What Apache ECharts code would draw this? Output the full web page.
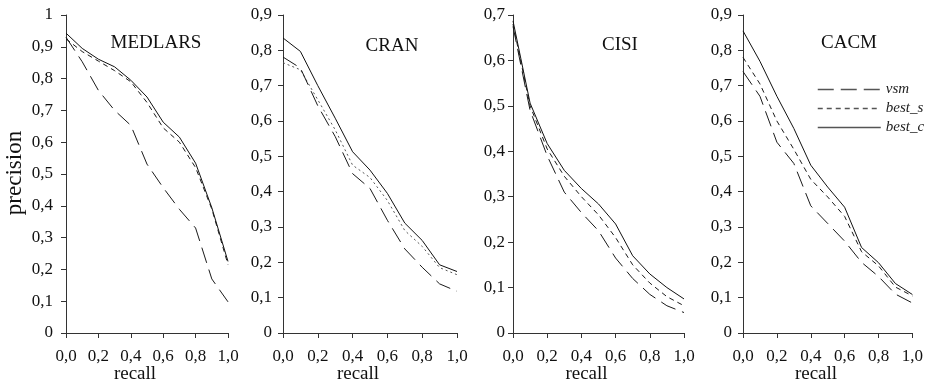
<!DOCTYPE html>
<html><head><meta charset="utf-8">
<script src="https://cdn.jsdelivr.net/npm/echarts@6/dist/echarts.min.js"></script>
<style>html,body{margin:0;padding:0;background:#fff}#c{width:926px;height:381px}</style>
</head><body><div id="c"></div>
<script>
var recall = [0,0.1,0.2,0.3,0.4,0.5,0.6,0.7,0.8,0.9,1.0];
var seriesNames = ['vsm','best_s','best_c'];
var panelTitles = ['MEDLARS','CRAN','CISI','CACM'];
var yMax = [1, 0.9, 0.7, 0.9];
var xTickLabels = ['0,0','0,2','0,4','0,6','0,8','1,0'];

var medlarsVsm   = [0.93,0.853,0.763,0.70,0.653,0.531,0.457,0.389,0.33,0.17,0.098];
var medlarsBestS = [0.925,0.885,0.855,0.825,0.79,0.725,0.645,0.60,0.52,0.39,0.215];
var medlarsBestC = [0.943,0.895,0.861,0.837,0.795,0.742,0.663,0.616,0.534,0.394,0.225];

var cranVsm   = [0.781,0.75,0.643,0.556,0.451,0.409,0.319,0.238,0.186,0.139,0.118];
var cranBestS = [0.765,0.745,0.66,0.575,0.475,0.44,0.375,0.29,0.245,0.185,0.165];
var cranBestC = [0.835,0.797,0.70,0.608,0.513,0.461,0.395,0.311,0.262,0.193,0.174];

var cisiVsm   = [0.675,0.49,0.39,0.31,0.265,0.225,0.165,0.12,0.085,0.06,0.045];
var cisiBestS = [0.68,0.50,0.405,0.345,0.30,0.26,0.21,0.15,0.11,0.08,0.06];
var cisiBestC = [0.687,0.506,0.417,0.358,0.318,0.284,0.24,0.17,0.13,0.10,0.075];

var cacmVsm   = [0.74,0.67,0.54,0.48,0.36,0.31,0.26,0.20,0.16,0.11,0.085];
var cacmBestS = [0.78,0.705,0.60,0.52,0.435,0.385,0.33,0.23,0.19,0.13,0.105];
var cacmBestC = [0.855,0.769,0.67,0.579,0.475,0.413,0.356,0.242,0.199,0.14,0.109];

var panelData = [
  [medlarsVsm, medlarsBestS, medlarsBestC],
  [cranVsm, cranBestS, cranBestC],
  [cisiVsm, cisiBestS, cisiBestC],
  [cacmVsm, cacmBestS, cacmBestC]
];

var gridLeft = [66, 283, 513, 743];
var gridRight = [228, 457, 684, 913];
var yLabelMargin = [13, 11, 8, 11];
var titlePos = [[156,43],[392,46],[620,45],[849,43]];
var FONT = 'Liberation Serif';
var lineStyles = [
  {type:[16,7], color:'#1a1a1a', width:1},
  {type:[5,4], color:'#1a1a1a', width:1},
  {type:'solid', color:'#111', width:1}
];

function yFmt(v){
  if (Math.abs(v) < 1e-9) return '0';
  if (Math.abs(v-1) < 1e-9) return '1';
  return v.toFixed(1).replace('.', ',');
}

var grids=[], xAxes=[], yAxes=[], series=[], graphics=[];
for (var p=0;p<4;p++){
  grids.push({left:gridLeft[p], width:gridRight[p]-gridLeft[p], top:15, bottom:48, containLabel:false});
  xAxes.push({
    type:'value', gridIndex:p, min:0, max:1, interval:0.2,
    axisLine:{show:true, lineStyle:{color:'#333', width:1}},
    axisTick:{show:true, inside:false, length:5, lineStyle:{color:'#333'}},
    axisLabel:{margin:15, fontFamily:FONT, fontSize:17, color:'#111',
      formatter:function(v){ var i=Math.round(v/0.2); return xTickLabels[i]; }},
    splitLine:{show:false}
  });
  yAxes.push({
    type:'value', gridIndex:p, min:0, max:yMax[p], interval:0.1,
    axisLine:{show:true, lineStyle:{color:'#333', width:1}},
    axisTick:{show:true, inside:false, length:5, lineStyle:{color:'#333'}},
    axisLabel:{margin:yLabelMargin[p], fontFamily:FONT, fontSize:17, color:'#111', formatter:yFmt},
    splitLine:{show:false}
  });
  for (var s=0;s<3;s++){
    var vals = panelData[p][s];
    var ls = Object.assign({}, lineStyles[s]);
    if (p===1 && s===1){ ls.type=[2,3]; ls.color='#555'; }
    series.push({
      type:'line', name:seriesNames[s], xAxisIndex:p, yAxisIndex:p,
      data: recall.map(function(r,i){ return [r, vals[i]]; }),
      symbol:'none', lineStyle:ls, itemStyle:{color:'#111'}, animation:false, z: 3-s
    });
  }
  graphics.push({type:'text', x:titlePos[p][0], y:titlePos[p][1], style:{text:panelTitles[p], fontFamily:FONT, fontSize:19, fill:'#111', align:'center', verticalAlign:'middle'}});
  graphics.push({type:'text', x:(gridLeft[p]+gridRight[p])/2 - 12, y:374, style:{text:'recall', fontFamily:FONT, fontSize:19, fill:'#111', align:'center', verticalAlign:'middle'}});
}
graphics.push({type:'text', x:15, y:173, rotation:Math.PI/2, style:{text:'precision', fontFamily:FONT, fontSize:23, fill:'#111', align:'center', verticalAlign:'middle'}});

var chart = echarts.init(document.getElementById('c'), null, {renderer:'canvas'});
chart.setOption({
  animation:false,
  backgroundColor:'#fff',
  grid:grids, xAxis:xAxes, yAxis:yAxes, series:series,
  legend:{
    data:seriesNames, orient:'vertical', left:812, top:77, align:'left',
    itemWidth:63, itemHeight:14, itemGap:4,
    itemStyle:{opacity:0},
    lineStyle:{color:'#555', width:1.5},
    textStyle:{fontFamily:FONT, fontStyle:'italic', fontSize:15, color:'#222'},
    selectedMode:false
  },
  graphic:graphics
});
</script></body></html>
